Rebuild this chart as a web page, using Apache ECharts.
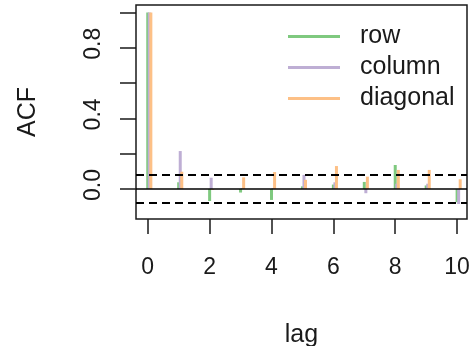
<!DOCTYPE html>
<html>
<head>
<meta charset="utf-8">
<script src="https://cdn.jsdelivr.net/npm/echarts@6/dist/echarts.min.js"></script>
<style>
  html, body { margin: 0; padding: 0; background: #fff; }
  #main { width: 472px; height: 346px; }
</style>
</head>
<body>
<div id="main"></div>
<script>
// acf values
var lags = [0, 1, 2, 3, 4, 5, 6, 7, 8, 9, 10]
var rowAcf = [1, 0.038, -0.068, -0.02, -0.062, 0.015, 0.025, 0.04, 0.136, 0.02, -0.075]
var columnAcf = [1, 0.215, 0.064, 0.005, 0.005, 0.08, 0.038, -0.024, 0.03, 0.03, -0.085]
var diagonalAcf = [1, 0.098, -0.005, 0.066, 0.096, 0.052, 0.13, 0.07, 0.108, 0.108, 0.055]
var seriesNames = ['row', 'column', 'diagonal']
var ciBounds = [0.0784, -0.0784]
var xTicks = [0, 2, 4, 6, 8, 10]
var yTicks = [0, 0.2, 0.4, 0.6, 0.8, 1.0]
var yLabels = [0, 0.4, 0.8]

var colors = ['#7fc97f', '#beaed4', '#fdc086']
var font = 'Liberation Sans, Arial, Helvetica, sans-serif'

var chart = echarts.init(document.getElementById('main'))

function makeSeries(name, values, idx) {
  return {
    name: name,
    type: 'custom',
    itemStyle: { color: colors[idx] },
    // small offset per series so the three sticks sit side by side
    data: lags.map(function (l, i) { return [l + idx * 0.05, values[i]] }),
    renderItem: function (params, api) {
      var p0 = api.coord([api.value(0), 0])
      var p1 = api.coord([api.value(0), api.value(1)])
      return {
        type: 'line',
        shape: { x1: p0[0], y1: p0[1], x2: p1[0], y2: p1[1] },
        style: { stroke: colors[idx], lineWidth: 3 }
      }
    },
    z: 2 + idx
  }
}

var series = [
  makeSeries(seriesNames[0], rowAcf, 0),
  makeSeries(seriesNames[1], columnAcf, 1),
  makeSeries(seriesNames[2], diagonalAcf, 2)
]
// zero line + confidence bounds
series[2].markLine = {
  silent: true,
  symbol: 'none',
  label: { show: false },
  data: [
    { yAxis: 0, lineStyle: { color: '#000', width: 1.5, type: 'solid' } },
    { yAxis: ciBounds[0], lineStyle: { color: '#000', width: 2, type: [8, 5] } },
    { yAxis: ciBounds[1], lineStyle: { color: '#000', width: 2, type: [8, 5] } }
  ]
}

chart.setOption({
  animation: false,
  textStyle: { fontFamily: font, color: '#1a1a1a' },
  grid: {
    left: 136, top: 5, width: 331, height: 214,
    containLabel: false, outerBoundsMode: 'none',
    show: true, borderColor: '#1a1a1a', borderWidth: 1.5, backgroundColor: 'transparent'
  },
  legend: {
    left: 288, top: 24, orient: 'vertical', padding: 0,
    icon: 'rect', itemWidth: 52, itemHeight: 3, itemGap: 6,
    textStyle: { fontFamily: font, fontSize: 25, color: '#1a1a1a', padding: [0, 0, 0, 15] },
    data: seriesNames
  },
  xAxis: {
    type: 'value', min: -0.38, max: 10.32,
    name: 'lag', nameLocation: 'middle', nameGap: 104,
    nameTextStyle: { fontFamily: font, fontSize: 25, color: '#1a1a1a' },
    axisLine: { show: false, onZero: false },
    splitLine: { show: false },
    axisTick: { show: true, length: 15, lineStyle: { color: '#1a1a1a', width: 1.5 }, customValues: xTicks },
    axisLabel: { fontFamily: font, fontSize: 23, color: '#1a1a1a', margin: 37, customValues: xTicks }
  },
  yAxis: {
    type: 'value', min: -0.17, max: 1.0425,
    name: 'ACF', nameLocation: 'middle', nameGap: 95,
    nameTextStyle: { fontFamily: font, fontSize: 25, color: '#1a1a1a' },
    axisLine: { show: false, onZero: false },
    splitLine: { show: false },
    axisTick: { show: true, length: 16, lineStyle: { color: '#1a1a1a', width: 1.5 }, customValues: yTicks },
    axisLabel: {
      fontFamily: font, fontSize: 23, color: '#1a1a1a', margin: 31, rotate: 90,
      padding: [0, 0, 0, 8],
      customValues: yLabels,
      formatter: function (v) { return v.toFixed(1) }
    }
  },
  series: series
})
</script>
</body>
</html>
